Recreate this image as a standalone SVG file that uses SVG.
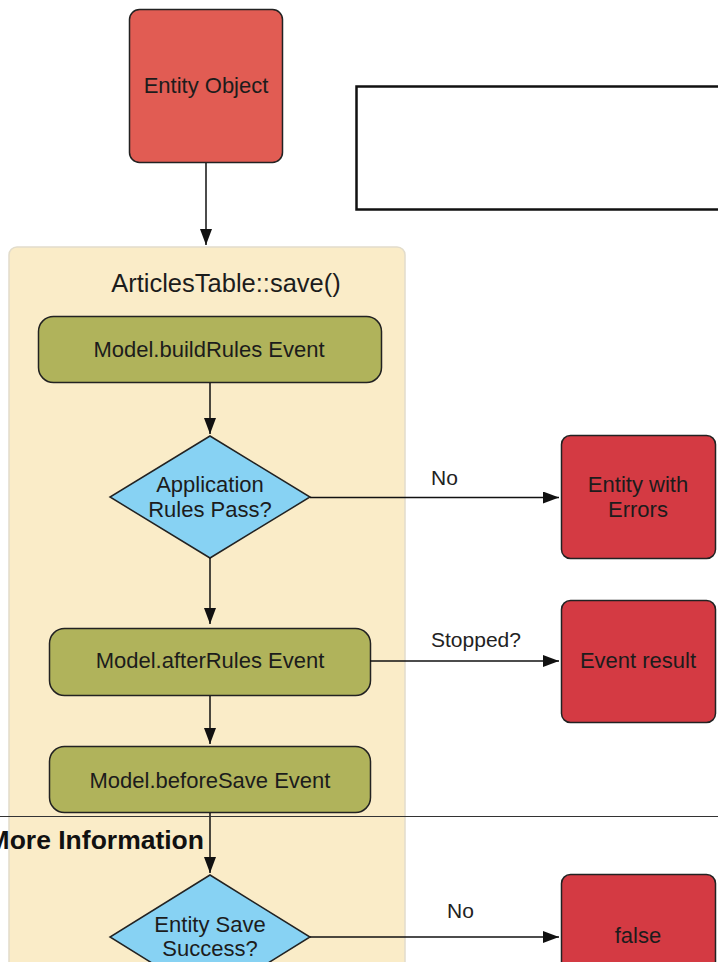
<svg xmlns="http://www.w3.org/2000/svg" width="718" height="962" viewBox="0 0 718 962">
<defs>
<style>
.t{font-family:"Liberation Sans",Arial,sans-serif;font-size:22px;fill:#1c1c1c;text-anchor:middle}
.lbl{font-family:"Liberation Sans",Arial,sans-serif;font-size:21px;fill:#222}
.red{fill:#d43a43;stroke:#222;stroke-width:1.5}
.olive{fill:#b0b35b;stroke:#222;stroke-width:1.5}
.dia{fill:#87d2f3;stroke:#222;stroke-width:1.5}
.c{stroke:#111;stroke-width:1.5;fill:none;marker-end:url(#ah)}
</style>
<marker id="ah" viewBox="0 0 16 12" refX="16" refY="6" markerWidth="16" markerHeight="12" markerUnits="userSpaceOnUse" orient="auto">
<path d="M0,0 L16,6 L0,12 z" fill="#111"/>
</marker>
</defs>
<rect width="718" height="962" fill="#fff"/>
<g id="container">
<rect x="9" y="247" width="396" height="730" rx="8" fill="#faecc8" stroke="#e2dccb" stroke-width="1.5"/>
<text class="t" x="226" y="292" style="font-size:25.5px">ArticlesTable::save()</text>
</g>
<g id="note">
<rect x="356.5" y="86.5" width="380" height="123" fill="#fff" stroke="#111" stroke-width="2.5"/>
</g>
<g id="entity-object">
<rect x="129.5" y="9.5" width="153" height="153" rx="10" fill="#e15c53" stroke="#222" stroke-width="1.5"/>
<text class="t" x="206" y="93">Entity Object</text>
</g>
<g id="build-rules">
<rect x="38.5" y="316.5" width="343" height="66" rx="15" class="olive"/>
<text class="t" x="209" y="357">Model.buildRules Event</text>
</g>
<g id="rules-pass">
<polygon points="210,436 310,497 210,558 110,497" class="dia"/>
<text class="t" x="210" y="492">Application</text>
<text class="t" x="210" y="517">Rules Pass?</text>
</g>
<g id="entity-errors">
<rect x="561.5" y="435.5" width="154" height="123" rx="9" class="red"/>
<text class="t" x="638" y="492">Entity with</text>
<text class="t" x="638" y="517">Errors</text>
</g>
<g id="after-rules">
<rect x="49.5" y="628.5" width="321" height="67" rx="15" class="olive"/>
<text class="t" x="210" y="668">Model.afterRules Event</text>
</g>
<g id="event-result">
<rect x="561.5" y="600.5" width="154" height="122" rx="9" class="red"/>
<text class="t" x="638" y="668">Event result</text>
</g>
<g id="before-save">
<rect x="49.5" y="746.5" width="321" height="66" rx="15" class="olive"/>
<text class="t" x="210" y="788">Model.beforeSave Event</text>
</g>
<g id="save-success">
<polygon points="210,875 310,937 210,999 110,937" class="dia"/>
<text class="t" x="210" y="932">Entity Save</text>
<text class="t" x="210" y="956">Success?</text>
</g>
<g id="false-result">
<rect x="561.5" y="874.5" width="154" height="123" rx="9" class="red"/>
<text class="t" x="638" y="943">false</text>
</g>
<g id="connectors">
<line x1="206" y1="163" x2="206" y2="245" class="c"/>
<line x1="210" y1="383" x2="210" y2="434" class="c"/>
<line x1="310" y1="497.5" x2="559" y2="497.5" class="c"/>
<text class="lbl" x="431" y="485">No</text>
<line x1="210" y1="558" x2="210" y2="624" class="c"/>
<line x1="370" y1="661" x2="559" y2="661" class="c"/>
<text class="lbl" x="431" y="647">Stopped?</text>
<line x1="210" y1="696" x2="210" y2="744" class="c"/>
<line x1="210" y1="813" x2="210" y2="873" class="c"/>
<line x1="310" y1="937" x2="559" y2="937" class="c"/>
<text class="lbl" x="447" y="918">No</text>
</g>
<g id="more-info">
<line x1="0" y1="816.5" x2="718" y2="816.5" stroke="#333" stroke-width="1"/>
<text x="204" y="849" style="font-family:'Liberation Sans',Arial,sans-serif;font-size:26.5px;font-weight:bold;fill:#111;text-anchor:end">More Information</text>
</g>
</svg>
